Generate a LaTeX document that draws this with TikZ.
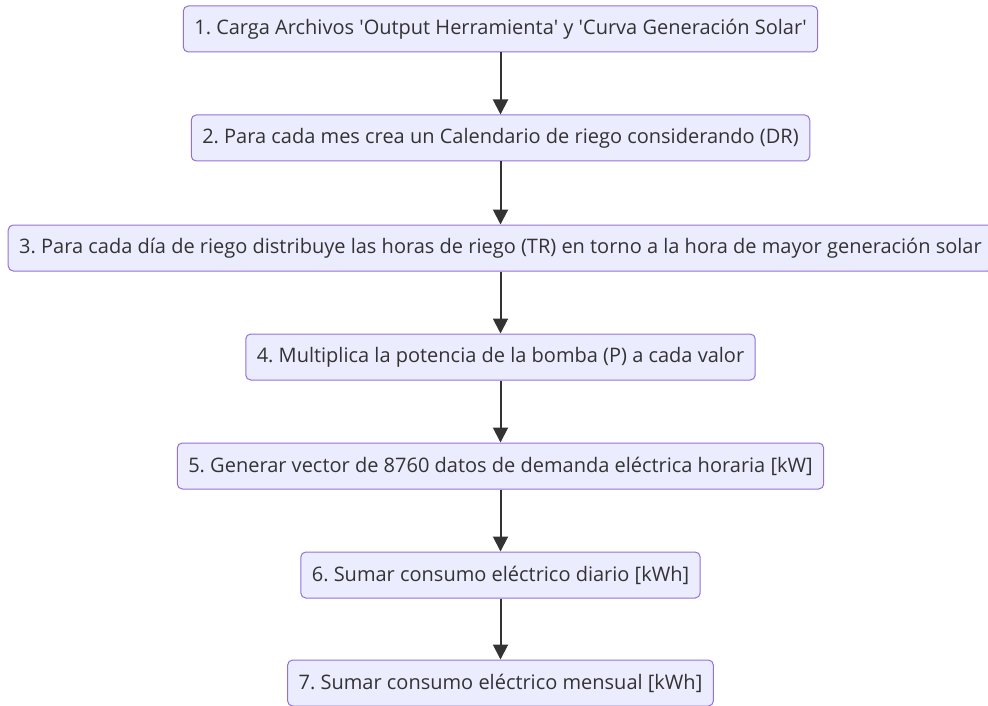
\documentclass[tikz,border=0pt]{standalone}
\usepackage{fontspec}
\setmainfont{Open Sans}
\usepackage{tikz}
\usetikzlibrary{arrows.meta,positioning}
\definecolor{boxfill}{HTML}{ECECFF}
\definecolor{boxline}{HTML}{9370DB}
\definecolor{darkgray}{HTML}{333333}
\frenchspacing

\begin{document}
\begin{tikzpicture}[x=1pt, y=-1pt,
  paso/.style={draw=boxline, fill=boxfill, rectangle, rounded corners=5pt, line width=1pt, text=darkgray, font=\fontsize{20}{24}\selectfont, minimum height=46pt, inner xsep=11pt},
  flow/.style={-{Triangle[length=15pt, width=15pt]}, draw=darkgray, line width=2pt}
]
\useasboundingbox (0,0) rectangle (988,706);

\node[paso] (carga) at (500.5, 29) {1. Carga Archivos \textquotesingle Output Herramienta\textquotesingle{} y \textquotesingle Curva Generación Solar\textquotesingle};
\node[paso] (calendario) at (500.5, 138) {2. Para cada mes crea un Calendario de riego considerando (DR)};
\node[paso] (distribuye) at (500.5, 248) {3. Para cada día de riego distribuye las horas de riego (TR) en torno a la hora de mayor generación solar};
\node[paso] (potencia) at (500.5, 357) {4. Multiplica la potencia de la bomba (P) a cada valor};
\node[paso] (vector) at (500.5, 466) {5. Generar vector de 8760 datos de demanda eléctrica horaria [kW]};
\node[paso] (diario) at (500.5, 575) {6. Sumar consumo eléctrico diario [kWh]};
\node[paso] (mensual) at (500.5, 683) {7. Sumar consumo eléctrico mensual [kWh]};

% Connections
\draw[flow] (carga) -- (calendario);
\draw[flow] (calendario) -- (distribuye);
\draw[flow] (distribuye) -- (potencia);
\draw[flow] (potencia) -- (vector);
\draw[flow] (vector) -- (diario);
\draw[flow] (diario) -- (mensual);

\end{tikzpicture}
\end{document}
